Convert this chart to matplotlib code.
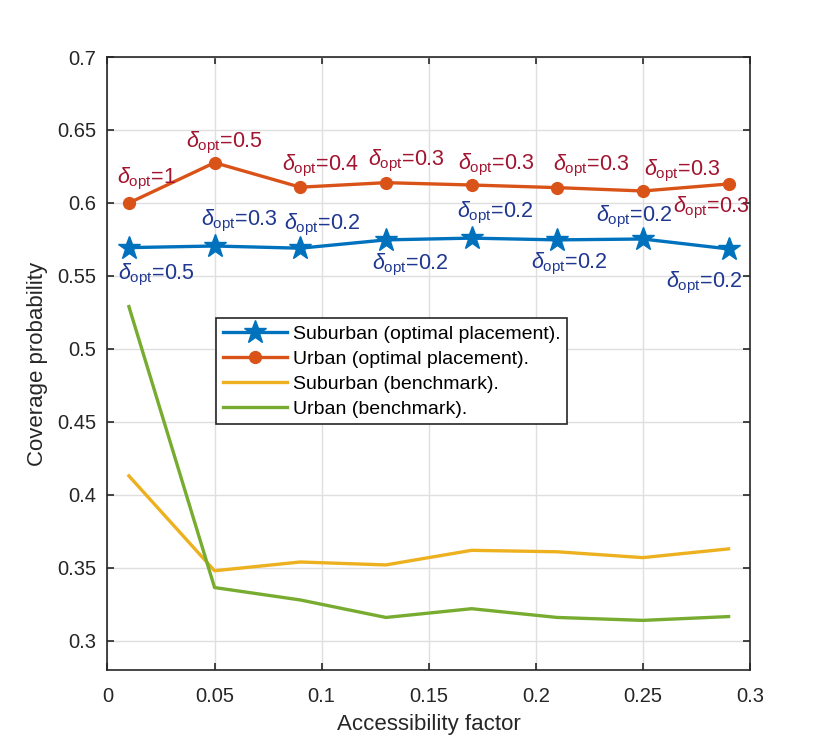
import matplotlib
matplotlib.use('Agg')
import matplotlib.pyplot as plt
import numpy as np

# Data
acc = [0.01, 0.05, 0.09, 0.13, 0.17, 0.21, 0.25, 0.29]
sub_opt = [0.5694, 0.5705, 0.5690, 0.5747, 0.5759, 0.5747, 0.5753, 0.5685]
urb_opt = [0.6000, 0.6276, 0.6108, 0.6139, 0.6123, 0.6105, 0.6082, 0.6130]
sub_bench = [0.413, 0.348, 0.354, 0.352, 0.362, 0.361, 0.357, 0.363]
urb_bench = [0.529, 0.3365, 0.328, 0.316, 0.322, 0.316, 0.314, 0.3166]
sub_delta = ['0.5', '0.3', '0.2', '0.2', '0.2', '0.2', '0.2', '0.2']
urb_delta = ['1', '0.5', '0.4', '0.3', '0.3', '0.3', '0.3', '0.3']

# label offsets in pixels (left edge, vertical centre) relative to each point
sub_off = [(-11, -27), (-14, 25), (-16, 23), (-14, -25), (-15, 25), (-26, -24), (-47, 22), (-63, -34)]
urb_off = [(-12, 24), (-29, 20), (-18, 21), (-18, 22), (-14, 20), (-4, 22), (1, 20), (-56, -24)]

plt.rcParams['font.family'] = ['Liberation Sans', 'DejaVu Sans']
plt.rcParams['mathtext.fontset'] = 'custom'
plt.rcParams['mathtext.rm'] = 'Liberation Sans'
plt.rcParams['mathtext.it'] = 'Liberation Sans:italic'

fig = plt.figure(figsize=(8.3, 7.54), dpi=100)
ax = fig.add_axes([0.1295, 0.1114, 0.7741, 0.8130])

ax.plot(acc, sub_opt, '-*', color='#0072BD', lw=2.4, ms=17, label='Suburban (optimal placement).')
ax.plot(acc, urb_opt, '-o', color='#D95319', lw=2.4, ms=8.5, label='Urban (optimal placement).')
ax.plot(acc, sub_bench, '-', color='#EDB120', lw=2.4, label='Suburban (benchmark).')
ax.plot(acc, urb_bench, '-', color='#77AC30', lw=2.4, label='Urban (benchmark).')

for x, y, d, off in zip(acc, sub_opt, sub_delta, sub_off):
    ax.annotate(r'$\delta_{\rm opt}$=' + d, (x, y), xytext=off, textcoords='offset pixels',
                ha='left', va='center', fontsize=15.5, color='#1f3790')
for x, y, d, off in zip(acc, urb_opt, urb_delta, urb_off):
    ax.annotate(r'$\delta_{\rm opt}$=' + d, (x, y), xytext=off, textcoords='offset pixels',
                ha='left', va='center', fontsize=15.5, color='#A2142F')

ax.set_xlim(0, 0.3)
ax.set_ylim(0.28, 0.7)
ax.set_xticks(np.arange(0, 0.31, 0.05))
ax.set_xticklabels(['0', '0.05', '0.1', '0.15', '0.2', '0.25', '0.3'])
ax.set_yticks(np.arange(0.3, 0.71, 0.05))
ax.set_yticklabels(['0.3', '0.35', '0.4', '0.45', '0.5', '0.55', '0.6', '0.65', '0.7'])
ax.grid(True, color='#dfdfdf', lw=1.0)
ax.set_axisbelow(True)
ax.tick_params(direction='in', top=True, right=True, length=5, width=1.2,
               labelsize=14.5, colors='#262626')
ax.tick_params(axis='x', pad=12)
ax.tick_params(axis='y', pad=8)
for s in ax.spines.values():
    s.set_color('#262626')
    s.set_linewidth(1.2)

ax.set_xlabel('Accessibility factor', fontsize=16, color='#262626', labelpad=6)
ax.set_ylabel('Coverage probability', fontsize=16, color='#262626', labelpad=7)

leg = ax.legend(loc='upper left', bbox_to_anchor=(0.169, 0.574), fontsize=14,
                frameon=True, fancybox=False, edgecolor='#262626', framealpha=1,
                borderpad=0.35, labelspacing=0.38, handlelength=3.3, handletextpad=0.3,
                borderaxespad=0)
leg.get_frame().set_linewidth(1.2)

plt.savefig('out.png', dpi=100)
